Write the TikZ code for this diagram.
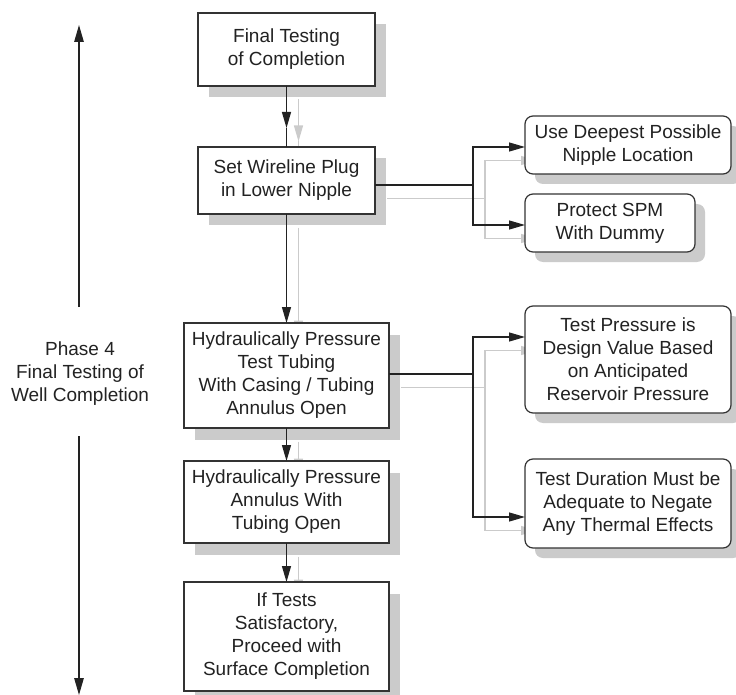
\documentclass[tikz,border=0pt]{standalone}
\usepackage{fontspec}
\setmainfont{Liberation Sans}
\usetikzlibrary{arrows.meta,shadows}
\pgfdeclarelayer{under}
\pgfsetlayers{under,main}
\definecolor{ink}{HTML}{222222}
\definecolor{frame}{HTML}{333333}
\definecolor{shade}{HTML}{CBCBCB}

\tikzset{
  every node/.style={font=\fontsize{19}{23}\selectfont, text=ink},
  boxbase/.style={draw=frame, line width=1.2pt, fill=white, align=center,
    inner sep=0pt, outer sep=0pt},
  stepbox/.style={boxbase,
    drop shadow={shadow xshift=11pt, shadow yshift=-11.5pt, fill=shade, opacity=1}},
  notebox/.style={boxbase, rounded corners=8pt,
    drop shadow={shadow xshift=10pt, shadow yshift=-10pt, fill=shade, opacity=1}},
  link/.style={draw=ink, line width=1.3pt},
  linkarrow/.style={link, -{Triangle[length=16pt,width=9pt]}},
  phasearrow/.style={draw=ink, line width=1.3pt, -{Triangle[length=17pt,width=9.5pt]}},
}

% all flow connectors; drawn once in black and once, offset, as a grey shadow
\newcommand\flowlinks{%
  \draw[linkarrow] (b1.south) -- (m12);
  \draw[link] (m12) -- (b2.north);
  \draw[linkarrow] (b2.south) -- (b3.north);
  \draw[linkarrow] (b3.south) -- (b4.north);
  \draw[linkarrow] (b4.south) -- (b5.north);
  \draw[link] ([yshift=-4.5pt]b2.east) -- (j2);
  \draw[linkarrow] (j2) |- ([yshift=-2pt]rA.west);
  \draw[linkarrow] (j2) |- ([yshift=-2pt]rB.west);
  \draw[link] ([yshift=1.5pt]b3.east) -- (j3);
  \draw[linkarrow] (j3) |- ([yshift=22.5pt]rC.west);
  \draw[linkarrow] (j3) |- ([yshift=-13.5pt]rD.west);
}

\begin{document}
\begin{tikzpicture}[x=1pt, y=-1pt]
\useasboundingbox (0,0) rectangle (736,695);

% main sequence
\node[stepbox, minimum width=177pt, minimum height=73pt] (b1) at (286.5,49.5)
  {Final Testing\\of Completion};
\node[stepbox, minimum width=177pt, minimum height=67pt] (b2) at (286.5,180.5)
  {Set Wireline Plug\\in Lower Nipple};
\node[stepbox, minimum width=205pt, minimum height=105pt] (b3) at (286.5,375.5)
  {Hydraulically Pressure\\Test Tubing\\With Casing / Tubing\\Annulus Open};
\node[stepbox, minimum width=205pt, minimum height=82pt] (b4) at (286.5,502)
  {Hydraulically Pressure\\Annulus With\\Tubing Open};
\node[stepbox, minimum width=205pt, minimum height=109pt] (b5) at (286.5,636.5)
  {If Tests\\Satisfactory,\\Proceed with\\Surface Completion};

% side notes
\node[notebox, minimum width=206pt, minimum height=58pt] (rA) at (628,145)
  {Use Deepest Possible\\Nipple Location};
\node[notebox, minimum width=170pt, minimum height=58pt] (rB) at (610,223)
  {Protect SPM\\With Dummy};
\node[notebox, minimum width=206pt, minimum height=107pt] (rC) at (628,359.5)
  {Test Pressure is\\Design Value Based\\on Anticipated\\Reservoir Pressure};
\node[notebox, minimum width=206pt, minimum height=89pt] (rD) at (628,503.5)
  {Test Duration Must be\\Adequate to Negate\\Any Thermal Effects};

% connector junctions
\coordinate (m12) at (286.5,128);
\coordinate (j2) at (473,185);
\coordinate (j3) at (473,374);

\begin{pgfonlayer}{under}
  \begin{scope}[transform canvas={shift={(12pt,-13.5pt)}},
                link/.append style={draw=shade}]
    \flowlinks
  \end{scope}
\end{pgfonlayer}
\flowlinks

% phase marker
\node[align=center] (ph) at (80,374) {Phase 4\\Final Testing of\\Well Completion};
\coordinate (ptop) at (79,25);
\coordinate (pa) at (79,307);
\coordinate (pb) at (79,436);
\coordinate (pbot) at (79,695);
\draw[phasearrow] (pa) -- (ptop);
\draw[phasearrow] (pb) -- (pbot);
\end{tikzpicture}
\end{document}
